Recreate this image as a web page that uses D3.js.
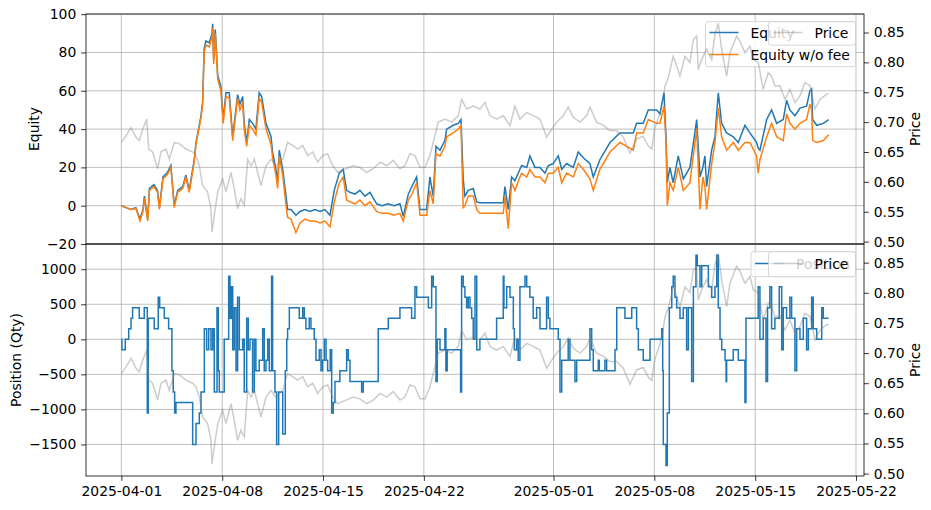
<!DOCTYPE html>
<html lang="en">
<head>
<meta charset="UTF-8">
<title>Equity / Position vs Price</title>
<script src="https://cdn.jsdelivr.net/npm/d3@7"></script>
<style>
    body { margin: 0; background: #fff; }
    svg { font-family: "DejaVu Sans", sans-serif; }
</style>
</head>
<body>
<div id="chart"></div>
<script>
// ---- data (days counted from 2025-04-01 00:00 UTC) ----
const eqDay = [0.00,0.32,0.67,1.01,1.29,1.50,1.60,1.83,1.95,2.26,2.51,2.64,2.89,3.17,3.44,3.67,3.91,4.26,4.48,4.71,
    5.06,5.18,5.53,5.64,5.75,5.87,6.10,6.29,6.34,6.41,6.52,6.69,6.91,7.07,7.26,7.49,7.73,8.07,8.23,8.42,
    8.53,8.70,8.88,9.11,9.34,9.57,9.74,10.04,10.39,10.50,10.73,10.85,10.96,11.20,11.43,11.54,11.77,12.12,12.40,12.75,
    13.09,13.44,13.79,14.13,14.48,14.78,15.13,15.40,15.64,15.87,16.22,16.56,16.91,17.26,17.72,18.09,18.51,18.92,19.34,19.57,
    19.92,20.17,20.50,20.73,21.19,21.42,21.65,21.84,22.12,22.46,22.58,23.04,23.39,23.58,23.73,23.85,24.08,24.43,24.67,24.89,
    25.45,26.00,26.51,26.63,26.86,27.09,27.32,27.67,27.79,28.14,28.36,28.71,29.06,29.41,29.64,29.98,30.33,30.57,30.91,31.37,
    31.72,32.07,32.53,32.76,33.22,33.92,34.61,35.54,35.77,36.23,36.58,37.16,37.39,37.67,37.81,37.90,38.08,38.31,38.66,39.01,
    39.47,39.94,40.17,40.37,40.51,40.63,40.98,41.21,41.44,41.67,42.02,42.48,42.83,43.29,43.64,44.10,44.21,44.33,44.80,45.14,
    45.49,45.95,46.18,46.41,46.76,47.11,47.57,47.80,47.92,47.99,48.27,48.73,49.10]
const equity = [0,-1,-2,-1,-7,-2,5,-7,9,11,8,-1,15,17,21,0,8,10,16,8,
    24,33,47,54,82,86,85,90,95,76,92,68,62,45,59,59,36,58,53,57,
    43,33,45,43,40,59,57,43,36,28,19,12,29,19,5,-2,-2,-5,-3,-2,
    -3,-2,-3,-2,-5,8,17,19,8,7,6,8,5,7,1,0,1,0,1,-5.6,
    6,10,15,-2,-2,15,5,31,29,34,40,42,43,45,14,5,8,9,2,1.5,
    1.5,1.5,1.5,10,-2,15,13,19,21,20,26,20,20,17,21,22,26,19,22,20,
    28,25,22,15,24,33,38,38,43,43,50,50,48,59,36,12,20,12,26,14,
    20,45,15,20,26,10,29,36,59,43,38,36,33,42,38,33,30,29,45,50,
    43,45,55,50,47,51,52,60,61,45,42,43,45]
const equityNoFee = [0,-1,-2,-1.5,-8,-3,4,-8,8,10,7,-2,14,16,20,-1,7,9,15,7,
    23,32,46,53,80,84,83,88,93,74,90,66,60,43,57,56,34,56,50,54,
    40,31,42,40,37,56,54,40,32,25,16,9,26,16,0,-6,-7,-14,-9,-7,
    -8,-8,-9,-8,-11,2,12,15,3,2,1,3,0,2,-3,-4,-4,-5,-4,-8,
    3,6,12,-5,-5,8,1,27,26,31,36,38,40,42,-1,0,5,5,-2,-4,
    -4,-4,-4,5,-12,12,8,15,17,15,19,15,15,12,17,17,20,12,17,15,
    22,19,14,8,19,28,33,29,38,38,45,43,43,52,33,0,12,8,20,8,
    12,40,-2,15,10,-2,22,33,51,36,29,33,29,33,33,26,17,24,36,43,
    36,34,48,43,40,43,45,53,50,34,33,34,37]

const priceDay = [0.00,0.32,0.67,1.01,1.24,1.48,1.76,1.90,2.17,2.52,2.75,3.10,3.33,3.67,4.02,4.48,4.95,5.18,5.41,5.64,
    5.99,6.22,6.29,6.45,6.69,7.03,7.26,7.61,7.84,8.07,8.30,8.53,8.77,9.00,9.23,9.46,9.69,10.04,10.39,10.73,
    11.20,11.54,11.89,12.24,12.59,12.93,13.28,13.63,13.97,14.32,14.67,15.02,15.59,16.10,16.56,17.03,17.49,17.96,18.42,18.87,
    19.34,19.69,20.03,20.38,20.73,21.08,21.42,21.65,22.00,22.46,22.93,23.39,23.62,23.97,24.43,24.89,25.24,25.59,26.05,26.51,
    26.98,27.32,27.67,28.14,28.59,29.06,29.52,29.87,30.22,30.68,31.02,31.37,31.84,32.30,32.53,32.99,33.45,33.92,34.39,34.84,
    35.31,35.77,36.23,36.58,36.82,37.04,37.39,37.58,37.74,37.97,38.31,38.55,38.78,39.13,39.47,39.71,39.94,40.05,40.29,40.63,
    40.98,41.21,41.44,41.67,42.02,42.25,42.71,42.94,43.29,43.64,43.87,44.21,44.56,44.91,45.14,45.37,45.72,46.07,46.41,46.76,
    47.11,47.45,47.80,48.15,48.50,48.96,49.10]
const price = [0.666,0.677,0.691,0.675,0.669,0.688,0.705,0.655,0.650,0.622,0.650,0.655,0.638,0.666,0.664,0.655,0.650,0.644,0.627,0.594,
    0.583,0.555,0.516,0.544,0.583,0.605,0.583,0.616,0.588,0.555,0.572,0.561,0.638,0.627,0.638,0.616,0.594,0.627,0.638,0.627,
    0.638,0.666,0.661,0.655,0.661,0.644,0.650,0.633,0.644,0.647,0.627,0.616,0.622,0.627,0.624,0.616,0.622,0.633,0.627,0.636,
    0.622,0.627,0.647,0.644,0.624,0.624,0.644,0.666,0.700,0.705,0.700,0.711,0.738,0.722,0.727,0.722,0.733,0.711,0.705,0.711,
    0.694,0.727,0.705,0.716,0.711,0.705,0.675,0.688,0.700,0.711,0.725,0.708,0.700,0.711,0.725,0.700,0.695,0.686,0.686,0.675,
    0.648,0.672,0.676,0.660,0.655,0.690,0.715,0.736,0.760,0.775,0.810,0.794,0.777,0.810,0.800,0.838,0.844,0.788,0.805,0.822,
    0.805,0.847,0.865,0.822,0.777,0.816,0.844,0.836,0.816,0.827,0.805,0.800,0.755,0.783,0.777,0.761,0.761,0.738,0.755,0.733,
    0.744,0.766,0.761,0.722,0.738,0.747,0.748]

const posDay = [0.00,0.04,0.27,0.51,0.67,0.78,1.24,1.59,1.80,1.87,2.28,2.56,2.66,2.98,3.28,3.51,3.60,3.70,3.79,4.95,
    5.18,5.41,5.53,5.76,5.92,6.06,6.22,6.34,6.45,6.64,6.73,6.80,7.14,7.45,7.54,7.63,7.73,7.84,7.96,8.07,
    8.19,8.42,8.53,8.70,8.81,8.93,9.11,9.23,9.34,9.57,9.81,9.92,10.04,10.16,10.27,10.43,10.50,10.66,10.78,10.92,
    11.20,11.38,11.48,11.54,11.66,12.35,12.59,12.70,12.81,13.04,13.16,13.39,13.51,13.74,13.86,13.97,14.09,14.21,14.32,14.50,
    14.60,14.71,14.83,15.17,15.64,15.75,15.87,16.68,16.79,17.83,18.53,19.34,20.15,20.38,20.50,21.31,21.54,21.65,21.84,21.93,
    22.12,22.46,22.53,22.62,23.55,23.62,23.73,23.85,23.97,24.08,24.20,24.32,24.43,24.55,24.67,24.89,26.05,26.51,26.56,26.75,
    26.98,27.21,27.28,27.44,27.55,27.67,28.02,28.14,28.36,28.59,28.83,29.06,29.52,29.64,29.75,30.33,30.45,30.57,31.02,31.14,
    31.49,31.61,32.53,32.65,32.76,33.11,33.18,33.57,33.69,34.27,34.39,34.96,35.43,35.77,35.89,36.23,36.70,37.51,37.58,37.62,
    37.81,37.90,38.04,38.21,38.31,38.43,38.55,38.78,39.01,39.24,39.36,39.59,39.71,39.89,39.98,40.17,40.29,40.75,40.98,41.21,
    41.33,41.44,41.56,41.68,41.91,41.98,42.02,42.48,42.83,43.29,43.36,44.21,44.33,44.56,44.75,44.86,45.02,45.14,45.37,45.67,
    45.84,45.95,46.18,46.41,46.53,46.76,46.88,47.11,47.34,47.57,47.69,47.92,48.03,48.27,48.62,48.73,49.10]
const position = [0,-150,0,150,300,450,300,450,-1050,300,150,600,450,300,150,-450,-750,-1050,-900,-1500,
    -1200,-1050,-750,150,-150,150,-150,150,-750,450,-450,-750,0,900,300,750,-150,450,-450,600,
    -150,0,-750,300,-150,0,-750,0,-450,-300,150,-450,-300,0,-450,900,-450,-750,-1500,-750,
    -1350,-450,0,150,450,300,450,300,150,300,150,0,-300,-150,-450,-300,0,-300,-450,-150,
    -1050,-900,-600,-450,-150,-300,-600,-750,-600,150,300,450,300,750,600,450,900,750,-600,0,
    -150,150,-450,-150,-750,900,750,600,450,600,450,300,0,900,-150,0,300,900,450,750,
    600,150,-150,0,-300,750,900,750,600,300,450,150,600,300,150,0,-750,-300,0,-300,
    -600,-300,150,-150,-450,-300,-450,-300,-450,-150,450,300,450,150,-150,-300,0,150,-450,-1500,
    -1800,-1050,450,750,900,600,450,300,450,-150,450,-600,750,1200,1050,750,1050,750,600,750,
    1200,450,0,-150,-300,-600,-300,-150,-300,-900,300,750,0,300,-600,450,750,150,300,750,
    -150,450,300,600,300,-450,150,0,300,-150,150,600,150,0,450,300,300]

const dateTicks = ['2025-04-01','2025-04-08','2025-04-15','2025-04-22','2025-05-01','2025-05-08','2025-05-15','2025-05-22']
const eqTicks = [-20, 0, 20, 40, 60, 80, 100]
const posTicks = [-1500, -1000, -500, 0, 500, 1000]
const priceTicks = [0.50, 0.55, 0.60, 0.65, 0.70, 0.75, 0.80, 0.85]

// ---- layout ----
const W = 931, H = 510
const L = 86, R = 864
const top1 = 14, bot1 = 244, top2 = 244, bot2 = 476
const fs = 13.9, tick = 4.86

const blue = '#1f77b4', orange = '#ff7f0e', grid = '#b0b0b0'

const t0 = Date.UTC(2025, 3, 1)
const toDate = d => new Date(t0 + d * 864e5)
const parseDay = d3.utcParse('%Y-%m-%d')

const span = d3.extent(eqDay.concat(priceDay, posDay))
const pad = (span[1] - span[0]) * 0.05
const x = d3.scaleUtc().domain([toDate(span[0] - pad), toDate(span[1] + pad)]).range([L, R])

const yEq = d3.scaleLinear().domain([-20, 100.1]).range([bot1, top1])
const yPos = d3.scaleLinear().domain([-1950, 1360]).range([bot2, top2])
const priceLim = [0.496, 0.881]
const yPr1 = d3.scaleLinear().domain(priceLim).range([bot1, top1])
const yPr2 = d3.scaleLinear().domain(priceLim).range([bot2, top2])

const eqRows = eqDay.map((d, i) => ({t: toDate(d), a: equity[i], b: equityNoFee[i]}))
const prRows = priceDay.map((d, i) => ({t: toDate(d), v: price[i]}))
const posRows = posDay.map((d, i) => ({t: toDate(d), v: position[i]}))
const tickDates = dateTicks.map(parseDay)

const svg = d3.select('#chart').append('svg')
    .attr('width', W).attr('height', H)

const defs = svg.append('defs')
;[[top1, bot1, 'clip1'], [top2, bot2, 'clip2']].forEach(([t, b, id]) => {
    defs.append('clipPath').attr('id', id)
        .append('rect').attr('x', L).attr('y', t).attr('width', R - L).attr('height', b - t)
})

function drawGrid(t, b, yScale, yTicks) {
    const g = svg.append('g')
    g.selectAll('.vx').data(tickDates).join('line')
        .attr('x1', d => x(d)).attr('x2', d => x(d))
        .attr('y1', t).attr('y2', b)
        .attr('stroke', grid).attr('stroke-width', 0.8)
    g.selectAll('.hy').data(yTicks).join('line')
        .attr('x1', L).attr('x2', R)
        .attr('y1', d => yScale(d)).attr('y2', d => yScale(d))
        .attr('stroke', grid).attr('stroke-width', 0.8)
}

function styleAxis(g) {
    g.select('.domain').remove()
    g.attr('font-size', fs).attr('font-family', '"DejaVu Sans", sans-serif').attr('color', '#000')
    g.selectAll('line').attr('stroke-width', 0.8)
}

function legendBox(x0, y0, w, h) {
    svg.append('rect')
        .attr('x', x0).attr('y', y0).attr('width', w).attr('height', h)
        .attr('rx', 2.5)
        .attr('fill', '#fff').attr('fill-opacity', 0.8)
        .attr('stroke', '#cccccc').attr('stroke-opacity', 0.8).attr('stroke-width', 1)
}

function legendItem(x0, yc, label, color, opacity) {
    svg.append('line')
        .attr('x1', x0).attr('x2', x0 + 29)
        .attr('y1', yc).attr('y2', yc)
        .attr('stroke', color).attr('stroke-width', 1.5).attr('stroke-opacity', opacity)
    svg.append('text')
        .attr('x', x0 + 41).attr('y', yc).attr('dy', '0.36em')
        .attr('font-size', fs).text(label)
}

const priceLine = yS => d3.line().x(d => x(d.t)).y(d => yS(d.v))

// ---- top panel ----
drawGrid(top1, bot1, yEq, eqTicks)

const p1 = svg.append('g').attr('clip-path', 'url(#clip1)')
p1.append('path').datum(eqRows)
    .attr('d', d3.line().x(d => x(d.t)).y(d => yEq(d.a)))
    .attr('fill', 'none').attr('stroke', blue).attr('stroke-width', 1.5)
p1.append('path').datum(eqRows)
    .attr('d', d3.line().x(d => x(d.t)).y(d => yEq(d.b)))
    .attr('fill', 'none').attr('stroke', orange).attr('stroke-width', 1.5)

legendBox(705.5, 21.7, 150, 45)
legendItem(709.5, 32.5, 'Equity', blue, 1)
legendItem(709.5, 54.5, 'Equity w/o fee', orange, 1)

svg.append('g').attr('clip-path', 'url(#clip1)')
    .append('path').datum(prRows)
    .attr('d', priceLine(yPr1))
    .attr('fill', 'none').attr('stroke', '#808080').attr('stroke-opacity', 0.4).attr('stroke-width', 1.5)

svg.append('g').attr('transform', `translate(${L},0)`)
    .call(d3.axisLeft(yEq).tickValues(eqTicks).tickSize(tick).tickPadding(tick).tickFormat(d3.format('d')))
    .call(styleAxis)
svg.append('g').attr('transform', `translate(${R},0)`)
    .call(d3.axisRight(yPr1).tickValues(priceTicks).tickSize(tick).tickPadding(tick).tickFormat(d3.format('.2f')))
    .call(styleAxis)

svg.append('rect').attr('x', L).attr('y', top1).attr('width', R - L).attr('height', bot1 - top1)
    .attr('fill', 'none').attr('stroke', '#000').attr('stroke-width', 0.8)

legendBox(768.5, 21.7, 87, 23.5)
legendItem(773.5, 32.5, 'Price', '#808080', 0.4)

// ---- bottom panel ----
drawGrid(top2, bot2, yPos, posTicks)

svg.append('g').attr('clip-path', 'url(#clip2)')
    .append('path').datum(posRows)
    .attr('d', d3.line().curve(d3.curveStepAfter).x(d => x(d.t)).y(d => yPos(d.v)))
    .attr('fill', 'none').attr('stroke', blue).attr('stroke-width', 1.5)

legendBox(751, 251.7, 104.5, 25)
legendItem(755, 263.5, 'Position', blue, 1)

svg.append('g').attr('clip-path', 'url(#clip2)')
    .append('path').datum(prRows)
    .attr('d', priceLine(yPr2))
    .attr('fill', 'none').attr('stroke', '#808080').attr('stroke-opacity', 0.4).attr('stroke-width', 1.5)

svg.append('g').attr('transform', `translate(${L},0)`)
    .call(d3.axisLeft(yPos).tickValues(posTicks).tickSize(tick).tickPadding(tick).tickFormat(d3.format('d')))
    .call(styleAxis)
svg.append('g').attr('transform', `translate(${R},0)`)
    .call(d3.axisRight(yPr2).tickValues(priceTicks).tickSize(tick).tickPadding(tick).tickFormat(d3.format('.2f')))
    .call(styleAxis)
svg.append('g').attr('transform', `translate(0,${bot2})`)
    .call(d3.axisBottom(x).tickValues(tickDates).tickSize(tick).tickPadding(tick).tickFormat(d3.utcFormat('%Y-%m-%d')))
    .call(styleAxis)

svg.append('rect').attr('x', L).attr('y', top2).attr('width', R - L).attr('height', bot2 - top2)
    .attr('fill', 'none').attr('stroke', '#000').attr('stroke-width', 0.8)

legendBox(768.5, 251.7, 87, 25)
legendItem(773.5, 263.5, 'Price', '#808080', 0.4)

// ---- axis titles ----
const title = (tx, ty, label) => svg.append('text')
    .attr('transform', `translate(${tx},${ty}) rotate(-90)`)
    .attr('text-anchor', 'middle').attr('font-size', fs).text(label)
title(39, (top1 + bot1) / 2, 'Equity')
title(21, (top2 + bot2) / 2, 'Position (Qty)')
title(920, (top1 + bot1) / 2, 'Price')
title(920, (top2 + bot2) / 2, 'Price')
</script>
</body>
</html>
